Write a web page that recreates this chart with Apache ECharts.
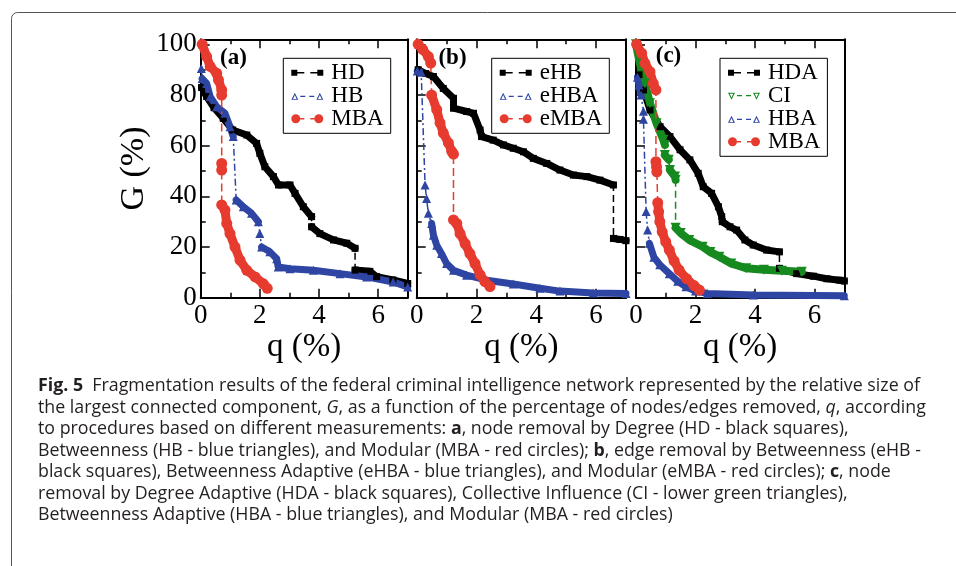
<!DOCTYPE html>
<html>
<head>
<meta charset="utf-8">
<script src="https://cdn.jsdelivr.net/npm/echarts@6/dist/echarts.min.js"></script>
<style>
  html, body { margin: 0; padding: 0; background: #fff; }
  #main { width: 956px; height: 566px; }
</style>
</head>
<body>
<div id="main"></div>
<script>
// axis ranges / ticks
const X_RANGE = [0, 7];
const Y_RANGE = [0, 102];
const X_MAJOR = 2, X_MINOR = 1;
const Y_MAJOR = 20, Y_MINOR = 10;

// every curve is a list of segments [[q, G], ...]; between segments the curve jumps (thin dashed line)
// (a) node removal
const HD = [
  [[0.03,83],[0.2,79.4],[0.45,75],[0.76,70.8],[1.08,66.2],[1.56,64.2],[1.89,60.9],[2.0,57],[2.17,51.7],[2.46,47.8],[2.63,44.5],[3.02,44.5],[3.19,41.2],[3.47,35.9],[3.75,32]],
  [[3.75,28],[4.03,25.3],[4.49,22.8],[4.94,21.5],[5.22,19.5]],
  [[5.22,10.9],[5.72,10.4],[5.95,8.3],[6.5,7],[7.0,5.6]]
];
const HB = [
  [[0.02,90.5]],
  [[0.05,86.5],[0.2,84.6],[0.32,79.4],[0.54,75.4],[0.82,72.8],[0.99,67.5],[1.1,63.6]],
  [[1.2,38.6],[1.44,35.9],[1.72,33.3],[1.95,30]],
  [[2.0,25.3]],
  [[2.06,20],[2.34,18.1],[2.57,15.4],[2.62,12.1],[3.02,11.4],[3.81,10.8],[4.71,9.5],[5.61,8.2],[6.51,6.2],[7.0,4.2]]
];
const MBA_A = [
  [[0.05,100],[0.2,95.2],[0.32,91.3],[0.54,88.6],[0.6,86],[0.71,82],[0.71,80]],
  [[0.71,53],[0.71,50.4]],
  [[0.71,36.6],[0.82,34.6],[0.88,29.3],[0.99,25.3],[1.16,20],[1.33,14.8],[1.56,10.8],[1.84,8.2],[2.12,5.5],[2.25,3.7]]
];
// (b) edge removal
const EHB = [
  [[0.05,90],[0.3,88.5],[0.56,87.3],[0.89,82.6],[1.23,78.7],[1.23,74.8],[1.67,73.5],[1.9,72.8],[2.12,66.2],[2.17,63.6],[2.56,62.2],[2.9,60.3],[3.23,59],[3.57,57.6],[3.9,55],[4.35,53],[4.79,50.4],[5.24,48.4],[5.69,47.8],[6.13,46.4],[6.58,44.5]],
  [[6.58,23.4],[6.8,23],[7.0,22.5]]
];
const EHBA = [
  [[0.02,89.5],[0.15,89]],
  [[0.28,44.5]],
  [[0.33,39.2]],
  [[0.39,33.3]],
  [[0.5,29.3],[0.56,24.7],[0.67,20.7],[0.83,17.4],[1.0,13.5],[1.23,10.8],[1.67,8.9],[2.34,6.9],[3.23,5.4],[4.12,3.7],[4.79,2.6],[5.9,1.9],[7.0,1.7]]
];
const EMBA = [
  [[0.05,100],[0.2,98],[0.39,95.2],[0.47,92.6]],
  [[0.5,80],[0.67,74.2],[0.78,69],[0.89,65],[1.06,61.1],[1.17,57.8],[1.23,56.7]],
  [[1.23,30.7],[1.34,29.3],[1.45,25.3],[1.62,21.3],[1.78,17.4],[1.95,13.5],[2.12,9],[2.28,6.4],[2.45,4.4]]
];
// (c) adaptive node removal
const HDA = [
  [[0.1,88],[0.25,82],[0.47,74.1],[0.81,67.5],[1.14,63.6],[1.48,58.4],[1.81,54.4],[2.09,49.1],[2.26,43.8],[2.54,41.2],[2.77,35.9],[2.88,32]],
  [[2.9,30],[3.16,28],[3.38,26.7],[3.66,22.8],[3.94,20.8],[4.39,18.8],[4.82,18.1]],
  [[4.82,11.6],[5.4,9.5],[5.96,8.5],[6.41,7.5],[6.85,6.9],[7.0,6.6]]
];
const CI = [
  [[0,100],[0.13,92.5],[0.3,84.6],[0.47,76.8],[0.69,68.9],[0.92,62.3],[0.97,60.3]],
  [[0.97,56.3],[1.1,54.5]],
  [[1.14,50.4],[1.31,47.8],[1.33,46.5]],
  [[1.33,27.6],[1.5,25.5],[1.79,22.8],[2.24,20.1],[2.5,18],[2.8,16.2],[3.2,13.5],[3.7,11.6],[4.3,11],[4.9,10.6],[5.57,10.2]]
];
const HBA = [
  [[0.05,87],[0.1,84],[0.17,80]],
  [[0.25,73.6]],
  [[0.25,70.4]],
  [[0.34,34]],
  [[0.39,26.7]],
  [[0.45,21.5],[0.6,16],[0.8,13],[1.12,9.5],[1.4,6.5],[1.68,4.3],[2.0,2.6],[2.4,1.7],[3.94,1.1],[7.0,0.8]]
];
const MBA_C = [
  [[0.02,100],[0.19,96.5],[0.3,92.5],[0.47,89.2],[0.58,84.6],[0.67,82]],
  [[0.67,53.7],[0.69,51.7],[0.7,49.7]],
  [[0.73,37.5],[0.76,34],[0.8,30],[0.88,26],[1.0,22],[1.12,18.8],[1.28,14.5],[1.45,10.9],[1.7,7.5],[1.95,4.8],[2.13,3]]
];

const SERIF = "'Liberation Serif', 'DejaVu Serif', serif";
const SANS = "'Open Sans', 'Noto Sans', sans-serif";

// bbox anchors keep every legend icon at 32x10
const ANCH = 'M0,0h0.01v0.01h-0.01z M31.99,9.99h0.01v0.01h-0.01z ';
const STYLE = {
  black: { color: '#000', symbol: 'rect', size: 7, band: 7, dash: [7, 4], rotate: 0,
    icon: 'path://' + ANCH + 'M0,2h6v6h-6z M6,4.3h7v1.4h-7z M19,4.3h7v1.4h-7z M26,2h6v6h-6z' },
  blue: { color: '#2e45a3', symbol: 'triangle', size: 9, band: 7, dash: [7, 3, 2, 3], rotate: 0,
    icon: 'path://' + ANCH + 'M0,9L3.5,2L7,9z M1.7,8.1L5.3,8.1L3.5,4.3z M9,4.9h5v1.2h-5z M18,4.9h5v1.2h-5z M25,9L28.5,2L32,9z M26.7,8.1L30.3,8.1L28.5,4.3z' },
  red: { color: '#e63b2e', symbol: 'circle', size: 11, band: 9, dash: [8, 4], rotate: 0,
    icon: 'path://' + ANCH + 'M0,5a4.5,4.5 0 1,0 9,0a4.5,4.5 0 1,0 -9,0z M9,4.3h4v1.4h-4z M19,4.3h4v1.4h-4z M23,5a4.5,4.5 0 1,0 9,0a4.5,4.5 0 1,0 -9,0z' },
  green: { color: '#16891f', symbol: 'triangle', size: 10, band: 8, dash: [7, 4], rotate: 180,
    icon: 'path://' + ANCH + 'M0,2L7,2L3.5,9z M1.7,2.9L3.5,6.7L5.3,2.9z M9,4.3h5v1.2h-5z M18,4.3h5v1.2h-5z M25,2L32,2L28.5,9z M26.7,2.9L28.5,6.7L30.3,2.9z' }
};

const PANELS = [
  { tag: '(a)', left: 200.7, width: 207, legend: [283.3, 58.3], tagAt: [233.5, 58.5],
    curves: [['HD', HD, 'black'], ['HB', HB, 'blue'], ['MBA', MBA_A, 'red']] },
  { tag: '(b)', left: 416.7, width: 209.3, legend: [491.7, 58.3], tagAt: [452.5, 58.5],
    curves: [['eHB', EHB, 'black'], ['eHBA', EHBA, 'blue'], ['eMBA', EMBA, 'red']] },
  { tag: '(c)', left: 636, width: 208.3, legend: [720, 58.3], tagAt: [668.5, 56.5],
    curves: [['HDA', HDA, 'black'], ['CI', CI, 'green'], ['HBA', HBA, 'blue'], ['MBA', MBA_C, 'red']] }
];
const TOP = 39.3, HEIGHT = 258.4;

const grid = [], xAxis = [], yAxis = [], series = [], legend = [], graphic = [];
const lineBlack = { color: '#000', width: 2 };
const tickBlack = { color: '#000', width: 1.5 };

PANELS.forEach(function (p, i) {
  const g = 2 * i;
  grid.push({ left: p.left, top: TOP, width: p.width, height: HEIGHT });
  grid.push({ left: p.left, top: TOP, width: p.width, height: HEIGHT });
  const xBase = { type: 'value', min: X_RANGE[0], max: X_RANGE[1], splitLine: { show: false } };
  const yBase = { type: 'value', min: Y_RANGE[0], max: Y_RANGE[1], splitLine: { show: false } };
  // main x axes (bottom with labels, top mirrored)
  xAxis.push(Object.assign({}, xBase, {
    gridIndex: g, position: 'bottom', interval: X_MAJOR,
    axisLine: { show: true, onZero: false, lineStyle: lineBlack },
    axisTick: { show: true, inside: true, length: 9, lineStyle: tickBlack },
    axisLabel: { show: true, showMaxLabel: false, margin: 5, color: '#000', fontFamily: SERIF, fontSize: 27 },
    name: 'q (%)', nameLocation: 'middle', nameGap: 26,
    nameTextStyle: { color: '#000', fontFamily: SERIF, fontSize: 33 }
  }));
  xAxis.push(Object.assign({}, xBase, {
    gridIndex: g, position: 'top', interval: X_MAJOR,
    axisLine: { show: true, onZero: false, lineStyle: lineBlack },
    axisTick: { show: true, inside: true, length: 9, lineStyle: tickBlack },
    axisLabel: { show: false }
  }));
  // minor ticks
  xAxis.push(Object.assign({}, xBase, {
    gridIndex: g + 1, position: 'bottom', interval: X_MINOR,
    axisLine: { show: false }, axisLabel: { show: false },
    axisTick: { show: true, inside: true, length: 5, lineStyle: tickBlack }
  }));
  xAxis.push(Object.assign({}, xBase, {
    gridIndex: g + 1, position: 'top', interval: X_MINOR,
    axisLine: { show: false }, axisLabel: { show: false },
    axisTick: { show: true, inside: true, length: 5, lineStyle: tickBlack }
  }));
  yAxis.push(Object.assign({}, yBase, {
    gridIndex: g, position: 'left', interval: Y_MAJOR,
    axisLine: { show: true, onZero: false, lineStyle: lineBlack },
    axisTick: { show: true, inside: true, length: 9, lineStyle: tickBlack },
    axisLabel: { show: i === 0, showMaxLabel: false, margin: 4, color: '#000', fontFamily: SERIF, fontSize: 27 },
    name: i === 0 ? 'G (%)' : '', nameLocation: 'middle', nameGap: 50,
    nameTextStyle: { color: '#000', fontFamily: SERIF, fontSize: 34 }
  }));
  yAxis.push(Object.assign({}, yBase, {
    gridIndex: g, position: 'right', interval: Y_MAJOR,
    axisLine: { show: true, onZero: false, lineStyle: lineBlack },
    axisTick: { show: false }, axisLabel: { show: false }
  }));
  yAxis.push(Object.assign({}, yBase, {
    gridIndex: g + 1, position: 'left', interval: Y_MINOR,
    axisLine: { show: false }, axisLabel: { show: false },
    axisTick: { show: true, inside: true, length: 5, lineStyle: tickBlack }
  }));

  const xi = 4 * i, yi = 3 * i;
  p.curves.forEach(function (c) {
    const name = c[0], segs = c[1], st = STYLE[c[2]];
    // thin connecting line through every point (shows the jumps)
    series.push({
      type: 'line', name: name, xAxisIndex: xi, yAxisIndex: yi,
      data: [].concat.apply([], segs), showSymbol: false, silent: true,
      itemStyle: { color: st.color },
      lineStyle: { color: st.color, width: 1.5, type: st.dash }
    });
    // thick band of markers for each continuous run
    segs.forEach(function (s) {
      series.push({
        type: 'line', name: name, xAxisIndex: xi, yAxisIndex: yi, data: s,
        symbol: st.symbol, symbolSize: st.size, symbolRotate: st.rotate, showSymbol: true,
        silent: true,
        itemStyle: { color: st.color, borderWidth: 0 },
        lineStyle: { color: st.color, width: st.band, cap: 'round', join: 'round' }
      });
    });
  });

  legend.push({
    left: p.legend[0], top: p.legend[1], orient: 'vertical',
    data: p.curves.map(function (c) { return { name: c[0], icon: STYLE[c[2]].icon, itemStyle: { color: STYLE[c[2]].color } }; }),
    itemWidth: 32, itemHeight: 10, itemGap: 0, padding: [3, 7, 3, 8],
    borderColor: '#000', borderWidth: 1, backgroundColor: '#fff', selectedMode: false,
    itemStyle: { borderWidth: 0 },
    textStyle: { color: '#000', fontFamily: SERIF, fontSize: 23, lineHeight: 22.5, padding: [0, 0, 0, 3] }
  });

  graphic.push({
    type: 'text', x: p.tagAt[0], y: p.tagAt[1], z: 10,
    style: { text: p.tag, fill: '#000', font: 'bold 23px ' + SERIF, align: 'center', verticalAlign: 'middle' }
  });
});

// caption
const CAPTION = [
  '{b|Fig. 5}  Fragmentation results of the federal criminal intelligence network represented by the relative size of',
  'the largest connected component, {i|G}, as a function of the percentage of nodes/edges removed, {i|q}, according',
  'to procedures based on different measurements: {b|a}, node removal by Degree (HD - black squares),',
  'Betweenness (HB - blue triangles), and Modular (MBA - red circles); {b|b}, edge removal by Betweenness (eHB -',
  'black squares), Betweenness Adaptive (eHBA - blue triangles), and Modular (eMBA - red circles); {b|c}, node',
  'removal by Degree Adaptive (HDA - black squares), Collective Influence (CI - lower green triangles),',
  'Betweenness Adaptive (HBA - blue triangles), and Modular (MBA - red circles)'
];
const CAP_SIZE = 17.8;
CAPTION.forEach(function (line, k) {
  graphic.push({
    type: 'text', x: 38, y: 386 + k * 21.5,
    style: {
      text: line, fill: '#231f20', fontFamily: SANS, fontSize: CAP_SIZE, verticalAlign: 'middle',
      rich: {
        b: { fontFamily: SANS, fontSize: CAP_SIZE, fontWeight: 'bold', fill: '#231f20' },
        i: { fontFamily: SANS, fontSize: CAP_SIZE, fontStyle: 'italic', fill: '#231f20' }
      }
    }
  });
});

// outer figure frame
graphic.push({
  type: 'rect', z: -1,
  shape: { x: 11.5, y: 12.5, width: 1100, height: 800, r: 6 },
  style: { fill: 'none', stroke: '#555', lineWidth: 1 }
});

const chart = echarts.init(document.getElementById('main'), null, { renderer: 'canvas' });
chart.setOption({
  animation: false,
  backgroundColor: '#fff',
  grid: grid,
  xAxis: xAxis,
  yAxis: yAxis,
  legend: legend,
  series: series,
  graphic: graphic
});
</script>
</body>
</html>
